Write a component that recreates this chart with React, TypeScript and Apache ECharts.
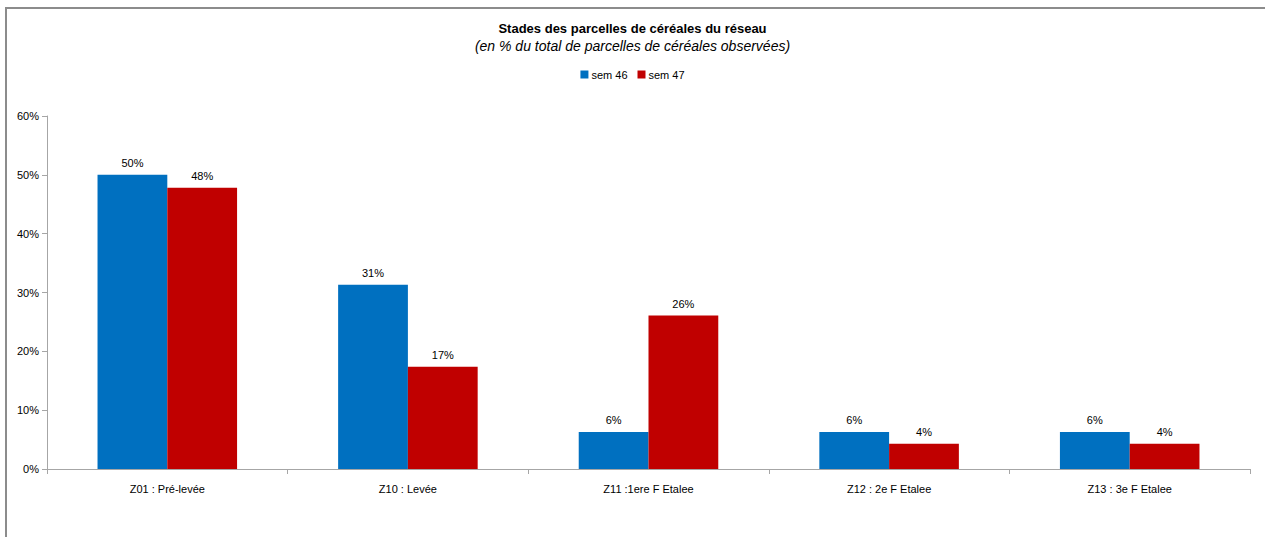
import React, { useEffect, useRef } from "react";
import * as echarts from "echarts";

const categories = ["Z01 : Pré-levée", "Z10 : Levée", "Z11 :1ere F Etalee", "Z12 : 2e F Etalee", "Z13 : 3e F Etalee"];
const sem46 = [50.0, 31.3, 6.3, 6.3, 6.3];
const sem47 = [47.8, 17.4, 26.1, 4.3, 4.3];
const seriesNames = ["sem 46", "sem 47"];
const yTicks = [0, 10, 20, 30, 40, 50, 60];

export default function App() {
  const ref = useRef<HTMLDivElement>(null);
  useEffect(() => {
    if (!ref.current) return;
    const chart = echarts.init(ref.current, null, { renderer: "svg" });
    const font = "Liberation Sans, Arial, sans-serif";
    const labelOpt = {
      show: true,
      position: "top" as const,
      distance: 6,
      color: "#000",
      fontSize: 11,
      fontFamily: font,
      formatter: (p: any) => Math.round(p.value) + "%",
    };
    chart.setOption({
      animation: false,
      backgroundColor: "#fff",
      textStyle: { fontFamily: font },
      title: {
        text: "Stades des parcelles de céréales du réseau",
        subtext: "(en % du total de parcelles de céréales observées)",
        left: "center",
        top: 17,
        itemGap: 4,
        textStyle: { fontSize: 13, fontWeight: "bold", color: "#000", fontFamily: font },
        subtextStyle: { fontSize: 14, fontStyle: "italic", color: "#000", fontFamily: font },
      },
      legend: {
        data: seriesNames,
        top: 64,
        left: "center",
        itemWidth: 8,
        itemHeight: 8,
        itemGap: 10,
        icon: "rect",
        textStyle: { fontSize: 11, color: "#000", fontFamily: font, padding: [0, 0, 0, -2] },
      },
      graphic: [
        {
          type: "rect",
          shape: { x: 6, y: 8, width: 1400, height: 700 },
          style: { fill: "none", stroke: "#8c8c8c", lineWidth: 2 },
          silent: true,
        },
      ],
      grid: { left: 47, right: 15, top: 116, bottom: 68 },
      xAxis: {
        type: "category",
        data: categories,
        axisLine: { lineStyle: { color: "#a6a6a6", width: 1 } },
        axisTick: { show: true, alignWithLabel: false, length: 5, inside: false, lineStyle: { color: "#a6a6a6" } },
        axisLabel: { color: "#000", fontSize: 11, margin: 14, fontFamily: font },
      },
      yAxis: {
        type: "value",
        min: 0,
        max: 60,
        interval: 10,
        splitLine: { show: false },
        axisLine: { show: true, lineStyle: { color: "#a6a6a6", width: 1 } },
        axisTick: { show: true, length: 5, lineStyle: { color: "#a6a6a6" } },
        axisLabel: {
          color: "#000",
          fontSize: 11,
          margin: 8,
          fontFamily: font,
          formatter: (v: number) => (yTicks.includes(v) ? v + "%" : ""),
        },
      },
      series: [
        {
          name: seriesNames[0],
          type: "bar",
          data: sem46,
          barGap: "0%",
          barCategoryGap: "42%",
          itemStyle: { color: "#0070C0" },
          label: labelOpt,
        },
        {
          name: seriesNames[1],
          type: "bar",
          data: sem47,
          itemStyle: { color: "#C00000" },
          label: labelOpt,
        },
      ],
    });
    return () => chart.dispose();
  }, []);
  return (
    <div
      ref={ref}
      style={{ position: "absolute", left: 0, top: 0, width: 1265, height: 537 }}
    />
  );
}
